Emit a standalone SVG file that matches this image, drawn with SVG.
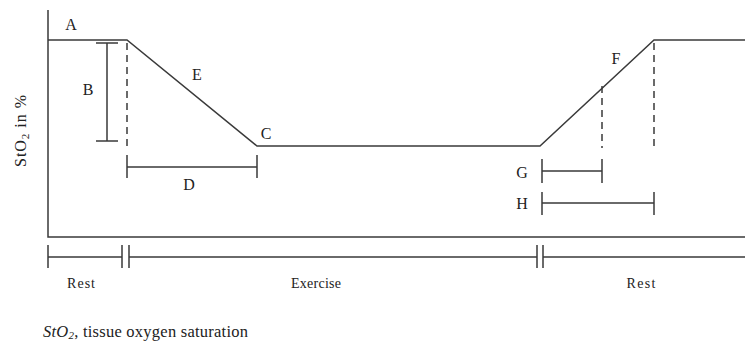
<svg xmlns="http://www.w3.org/2000/svg" width="745" height="345" viewBox="0 0 745 345">
<style>
.ln{stroke:#3a3a3a;stroke-width:1.5;fill:none}
.ds{stroke:#3a3a3a;stroke-width:1.5;fill:none;stroke-dasharray:7,5}
.lb{font-family:"Liberation Serif",serif;font-size:16px;fill:#222}
.sm{font-family:"Liberation Serif",serif;font-size:14px;fill:#222}
</style>
<rect width="745" height="345" fill="#fff"/>
<g id="axes">
<path class="ln" d="M48,10 V237 H745"/>
</g>
<g id="curve">
<path class="ln" d="M48,40 H127 L257,146 H540 L654,40 H745"/>
</g>
<g id="connectors">
<path class="ds" d="M127,43 V148"/>
<path class="ds" d="M602,86 V148"/>
<path class="ds" d="M654,43 V148"/>
</g>
<g id="B">
<path class="ln" d="M96,43 H118 M107,43 V141 M96,141 H118"/>
<text class="lb" x="88" y="95" text-anchor="middle">B</text>
</g>
<g id="D">
<path class="ln" d="M127,155 V178 M127,167 H257 M257,155 V178"/>
<text class="lb" x="189" y="190" text-anchor="middle">D</text>
</g>
<g id="G">
<path class="ln" d="M542,159 V183 M542,171 H602 M602,159 V183"/>
<text class="lb" x="522" y="178" text-anchor="middle">G</text>
</g>
<g id="H">
<path class="ln" d="M542,192 V215 M542,203 H654 M654,192 V215"/>
<text class="lb" x="522" y="209" text-anchor="middle">H</text>
</g>
<g id="labels">
<text class="lb" x="71" y="30" text-anchor="middle">A</text>
<text class="lb" x="197" y="80" text-anchor="middle">E</text>
<text class="lb" x="266" y="139" text-anchor="middle">C</text>
<text class="lb" x="616" y="64" text-anchor="middle">F</text>
</g>
<g id="ylabel">
<text class="sm" transform="translate(26,131) rotate(-90)" text-anchor="middle" style="font-size:16px" textLength="72" lengthAdjust="spacing">StO<tspan font-size="11" dy="3">2</tspan><tspan dy="-3"> in %</tspan></text>
</g>
<g id="timeline">
<path class="ln" d="M48,245 V268 M48,257 H122 M122,245 V268 M129,245 V268 M129,257 H537 M537,245 V268 M543,245 V268 M543,257 H745"/>
<text class="sm" x="81" y="288" text-anchor="middle" textLength="28" lengthAdjust="spacing">Rest</text>
<text class="sm" x="316" y="288" text-anchor="middle" textLength="50" lengthAdjust="spacing">Exercise</text>
<text class="sm" x="641" y="288" text-anchor="middle" textLength="29" lengthAdjust="spacing">Rest</text>
</g>
<g id="caption">
<text class="sm" x="43" y="337" style="font-size:16.5px" textLength="205" lengthAdjust="spacing"><tspan font-style="italic">StO</tspan><tspan font-style="italic" font-size="11" dy="2">2</tspan><tspan dy="-2">, tissue oxygen saturation</tspan></text>
</g>
</svg>
